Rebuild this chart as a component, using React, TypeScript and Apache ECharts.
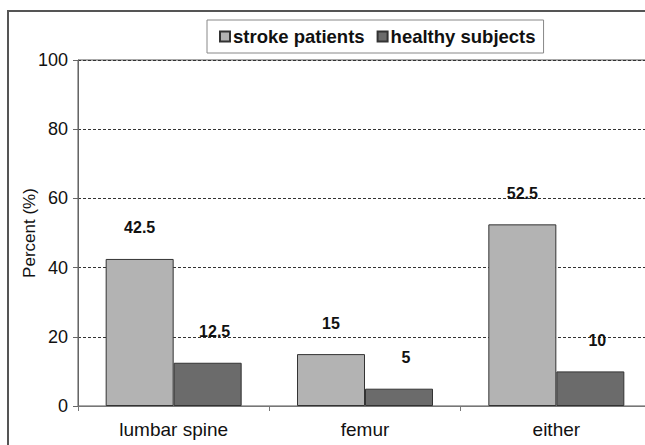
import React, { useEffect, useRef } from "react";
import * as echarts from "echarts";

const categories = ["lumbar spine", "femur", "either"];
const strokePatients = [42.5, 15, 52.5];
const healthySubjects = [12.5, 5, 10];
const seriesNames = ["stroke patients", "healthy subjects"];

export default function App() {
  const ref = useRef<HTMLDivElement>(null);
  useEffect(() => {
    const chart = echarts.init(ref.current!, null, { renderer: "svg" });
    const font = "'Liberation Sans', Arial, sans-serif";
    chart.setOption({
      animation: false,
      backgroundColor: "#ffffff",
      textStyle: { fontFamily: font },
      graphic: [
        {
          type: "polyline",
          shape: { points: [[8, 460], [8, 11], [700, 11]] },
          style: { fill: "none", stroke: "#555", lineWidth: 2 },
          silent: true,
        },
      ],
      legend: {
        left: 207,
        top: 20,
        padding: [7, 8, 7, 12],
        itemWidth: 10,
        itemHeight: 10,
        itemGap: 12,
        borderColor: "#888",
        borderWidth: 1,
        icon: "rect",
        textStyle: { fontSize: 18.5, fontWeight: "bold", color: "#111", fontFamily: font, padding: [0, 0, 0, -2] },
        data: seriesNames,
      },
      grid: {
        left: 78,
        top: 60,
        bottom: 39,
        width: 574,
        outerBoundsMode: "none",
        containLabel: false,
        show: true,
        backgroundColor: "#fff",
        borderColor: "#555",
        borderWidth: 1,
      },
      xAxis: {
        type: "category",
        data: categories,
        axisLine: { lineStyle: { color: "#777", width: 1 } },
        axisTick: { show: true, length: 5, lineStyle: { color: "#777" } },
        axisLabel: { fontSize: 19, color: "#111", margin: 14, fontFamily: font },
      },
      yAxis: {
        type: "value",
        min: 0,
        max: 100,
        interval: 20,
        name: "Percent (%)",
        nameLocation: "middle",
        nameGap: 40,
        nameMoveOverlap: false,
        nameTextStyle: { fontSize: 17, color: "#111", fontFamily: font },
        axisLine: { show: true, lineStyle: { color: "#666", width: 1 } },
        axisTick: { show: true, length: 5, lineStyle: { color: "#666" } },
        axisLabel: { fontSize: 18, color: "#111", margin: 10, fontFamily: font },
        splitLine: { show: true, lineStyle: { color: "#333", type: [3, 2], width: 1 } },
      },
      series: [
        {
          name: seriesNames[0],
          type: "bar",
          data: strokePatients,
          barWidth: 68,
          barGap: "0%",
          itemStyle: { color: "#b3b3b3", borderColor: "#333", borderWidth: 1 },
          label: {
            show: true,
            position: "top",
            offset: [0, -18],
            fontSize: 16,
            fontWeight: "bold",
            color: "#111",
            fontFamily: font,
          },
        },
        {
          name: seriesNames[1],
          type: "bar",
          data: healthySubjects,
          barWidth: 68,
          barGap: "0%",
          itemStyle: { color: "#6b6b6b", borderColor: "#333", borderWidth: 1 },
          label: {
            show: true,
            position: "top",
            offset: [7, -18],
            fontSize: 16,
            fontWeight: "bold",
            color: "#111",
            fontFamily: font,
          },
        },
      ],
    });
    return () => chart.dispose();
  }, []);
  return <div ref={ref} style={{ width: 645, height: 445, position: "absolute", left: 0, top: 0 }} />;
}
